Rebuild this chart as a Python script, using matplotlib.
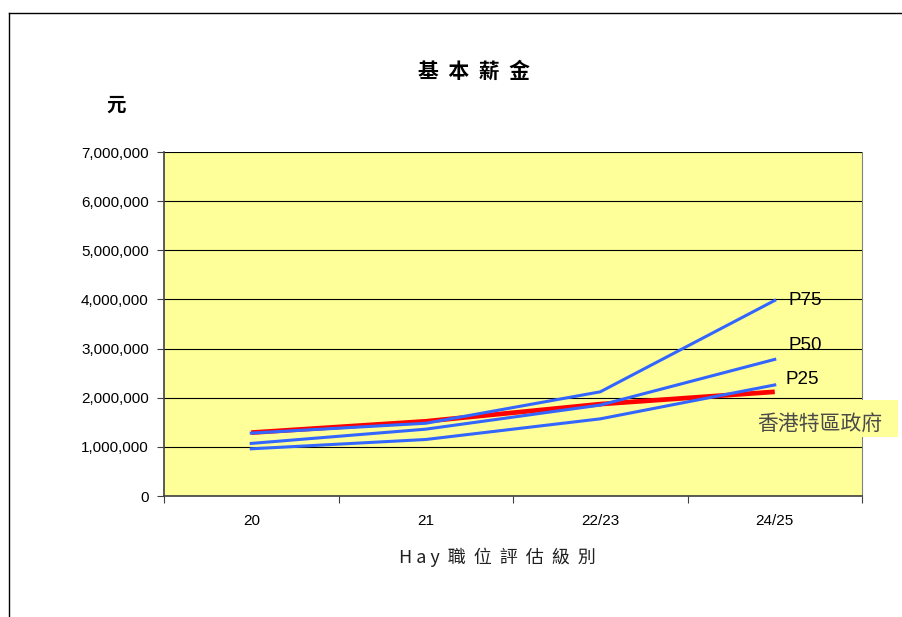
import matplotlib
matplotlib.use("Agg")
import matplotlib.pyplot as plt
from matplotlib.ticker import FuncFormatter, FixedLocator
from matplotlib.patches import Rectangle
from matplotlib.lines import Line2D

plt.rcParams['font.family'] = ['Liberation Sans', 'Noto Sans CJK TC', 'DejaVu Sans']
cjk = ['Noto Sans CJK TC', 'DejaVu Sans']

grades = ['20', '21', '22/23', '24/25']
p75 = [1280000, 1480000, 2120000, 3980000]
p50 = [1070000, 1360000, 1850000, 2780000]
p25 = [960000, 1150000, 1570000, 2260000]
hk_gov = [1290000, 1520000, 1870000, 2120000]
yticks = [0, 1000000, 2000000, 3000000, 4000000, 5000000, 6000000, 7000000]

blue = '#3366FF'
yellow = '#FFFF99'

fig = plt.figure(figsize=(9.02, 6.17), dpi=100)
ax = fig.add_axes([164 / 902, 121 / 617, 698 / 902, 344 / 617])
ax.set_facecolor(yellow)

x = range(len(grades))
ax.plot(x, hk_gov, color='#FF0000', lw=3.4, solid_capstyle='butt', zorder=3)
ax.plot(x, p75, color=blue, lw=2.2, zorder=4)
ax.plot(x, p50, color=blue, lw=2.2, zorder=4)
ax.plot(x, p25, color=blue, lw=2.2, zorder=4)

ax.set_xlim(-0.5, len(grades) - 0.5)
ax.set_ylim(0, 7000000)
ax.set_yticks(yticks)
ax.yaxis.set_major_formatter(FuncFormatter(lambda v, p: f'{int(v):,}'))
ax.grid(axis='y', color='black', lw=0.8)
ax.set_axisbelow(True)

# category boundaries carry the tick marks, labels sit at the centres
ax.xaxis.set_major_locator(FixedLocator([i - 0.5 for i in range(len(grades) + 1)]))
ax.xaxis.set_major_formatter(FuncFormatter(lambda v, p: ''))
ax.xaxis.set_minor_locator(FixedLocator(list(x)))
ax.set_xticklabels(grades, minor=True)
ax.tick_params(axis='x', which='major', length=5, width=0.8, color='#404040')
ax.tick_params(axis='x', which='minor', length=0, pad=13, labelsize=11)
ax.tick_params(axis='y', length=5, width=0.8, color='#404040', labelsize=11, pad=6)

for side in ['left', 'bottom']:
    ax.spines[side].set_color('#404040')
    ax.spines[side].set_linewidth(1.2)
ax.spines['right'].set_color('#808080')
ax.spines['top'].set_visible(False)

fig.text(497 / 902, 1 - 557 / 617, 'H a y  職  位  評  估  級  別', family=cjk,
         fontsize=13, color='#202020', ha='center', va='center')

ax.text(3.08, 3970000, 'P75', fontsize=13.5, va='center', ha='left')
ax.text(3.08, 3070000, 'P50', fontsize=13.5, va='center', ha='left')
ax.text(3.06, 2380000, 'P25', fontsize=13.5, va='center', ha='left')

fig.add_artist(Rectangle((754 / 902, 1 - 437 / 617), 144 / 902, 37 / 617,
                         transform=fig.transFigure, fc=yellow, ec='none', zorder=5))
fig.text(820 / 902, 1 - 424 / 617, '香港特區政府', family=cjk,
         fontsize=15, color='#4a4a4a', ha='center', va='center', zorder=6)

fig.text(474 / 902, 1 - 71 / 617, '基  本  薪  金', family=cjk,
         fontsize=15, fontweight='bold', ha='center', va='center')
fig.text(116 / 902, 1 - 105 / 617, '元', family=cjk,
         fontsize=14, fontweight='bold', ha='center', va='center')

# outer frame of the chart area
fig.add_artist(Line2D([9 / 902, 9 / 902], [0, 1 - 13 / 617], transform=fig.transFigure,
                      color='black', lw=1))
fig.add_artist(Line2D([9 / 902, 1], [1 - 13 / 617, 1 - 13 / 617], transform=fig.transFigure,
                      color='black', lw=1))

fig.savefig('out.png', dpi=100, facecolor='white')
